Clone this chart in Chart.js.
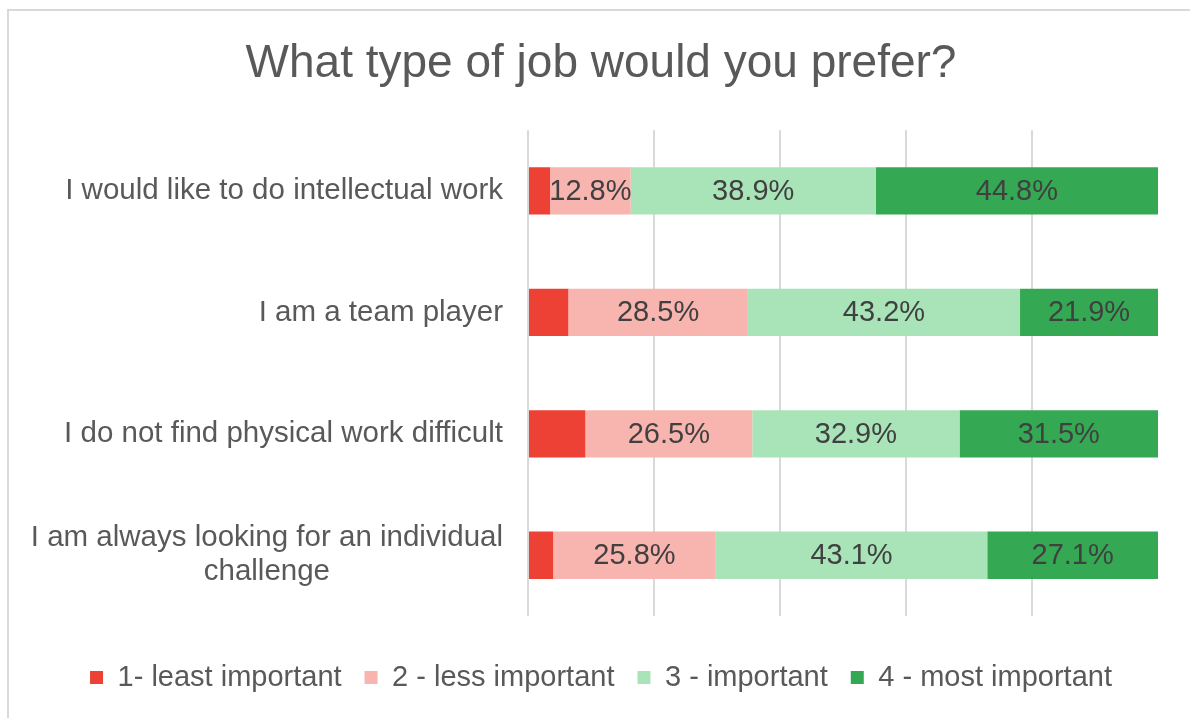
<!DOCTYPE html>
<html>
<head>
<meta charset="utf-8">
<script src="https://cdn.jsdelivr.net/npm/chart.js@4.4.0/dist/chart.umd.min.js"></script>
<style>
  html, body { margin: 0; padding: 0; background: #fff; }
  #wrap { position: relative; width: 1190px; height: 718px; }
  #frame { position: absolute; left: 7px; top: 9px; right: 0; bottom: 0;
           border-left: 2px solid #d9d9d9; border-top: 2px solid #d9d9d9; pointer-events: none; }
</style>
</head>
<body>
<div id="wrap">
  <canvas id="grafica" width="1190" height="718"></canvas>
  <div id="frame"></div>
</div>
<script>
const categorias = [
    "I would like to do intellectual work",
    "I am a team player",
    "I do not find physical work difficult",
    ["I am always looking for an individual", "challenge"]
];
const leastImportant = [3.5, 6.4, 9.1, 4.0];
const lessImportant = [12.8, 28.5, 26.5, 25.8];
const important = [38.9, 43.2, 32.9, 43.1];
const mostImportant = [44.8, 21.9, 31.5, 27.1];
const nombresSeries = ["1- least important", "2 - less important", "3 - important", "4 - most important"];
const colores = ["#ee4136", "#f8b4ae", "#a8e4b8", "#34a853"];

const fuente = "'Liberation Sans', Arial, sans-serif";

// etiquetas de valor dentro de las barras
const etiquetasValor = {
    id: 'etiquetasValor',
    afterDatasetsDraw(chart) {
        const ctx = chart.ctx;
        ctx.save();
        ctx.font = "29px " + fuente;
        ctx.fillStyle = "#404040";
        ctx.textAlign = "center";
        ctx.textBaseline = "middle";
        chart.data.datasets.forEach((ds, i) => {
            if (i === 0) return; // la primera serie no lleva etiqueta
            chart.getDatasetMeta(i).data.forEach((bar, j) => {
                const xc = (bar.x + bar.base) / 2;
                ctx.fillText(ds.data[j].toFixed(1) + "%", xc, bar.y + 1);
            });
        });
        ctx.restore();
    }
};

// etiquetas de categoria (las lineas se centran entre si)
const etiquetasCategoria = {
    id: 'etiquetasCategoria',
    afterDraw(chart) {
        const ctx = chart.ctx;
        const yScale = chart.scales.y;
        const bordeDerecho = 503;
        const alto = 34;
        ctx.save();
        ctx.font = "29.5px " + fuente;
        ctx.fillStyle = "#595959";
        ctx.textAlign = "center";
        ctx.textBaseline = "middle";
        categorias.forEach((cat, i) => {
            const lineas = Array.isArray(cat) ? cat : [cat];
            const ancho = Math.max(...lineas.map(l => ctx.measureText(l).width));
            const xc = bordeDerecho - ancho / 2;
            const y0 = yScale.getPixelForValue(i) - (lineas.length - 1) * alto / 2;
            lineas.forEach((l, k) => ctx.fillText(l, xc, y0 + k * alto));
        });
        ctx.restore();
    }
};

const series = [leastImportant, lessImportant, important, mostImportant];

new Chart(document.getElementById("grafica").getContext("2d"), {
    type: "bar",
    data: {
        labels: categorias,
        datasets: series.map((d, i) => ({
            label: nombresSeries[i],
            data: d,
            backgroundColor: colores[i],
            borderWidth: 0,
            categoryPercentage: 1,
            barPercentage: 0.39
        }))
    },
    options: {
        indexAxis: "y",
        responsive: false,
        animation: false,
        layout: { padding: { left: 44, right: 32, top: 0, bottom: 16 } },
        scales: {
            x: {
                stacked: true,
                min: 0,
                max: 100,
                ticks: { display: false, stepSize: 20 },
                grid: {
                    drawTicks: false,
                    lineWidth: 2,
                    color: c => (c.tick && c.tick.value === 100) ? "rgba(0,0,0,0)" : "#d9d9d9"
                },
                border: { display: false },
                afterFit(scale) { scale.height = 24; }
            },
            y: {
                stacked: true,
                ticks: { display: false },
                grid: { display: false },
                border: { display: false },
                afterFit(scale) { scale.width = 484; }
            }
        },
        plugins: {
            title: {
                display: true,
                text: "What type of job would you prefer?",
                color: "#595959",
                font: { family: fuente, size: 46, weight: "normal" },
                padding: { top: 37, bottom: 38 }
            },
            legend: {
                position: "bottom",
                labels: {
                    color: "#595959",
                    font: { family: fuente, size: 29 },
                    boxWidth: 13,
                    boxHeight: 13,
                    padding: 23
                }
            },
            tooltip: { enabled: false }
        }
    },
    plugins: [etiquetasValor, etiquetasCategoria]
});
</script>
</body>
</html>
